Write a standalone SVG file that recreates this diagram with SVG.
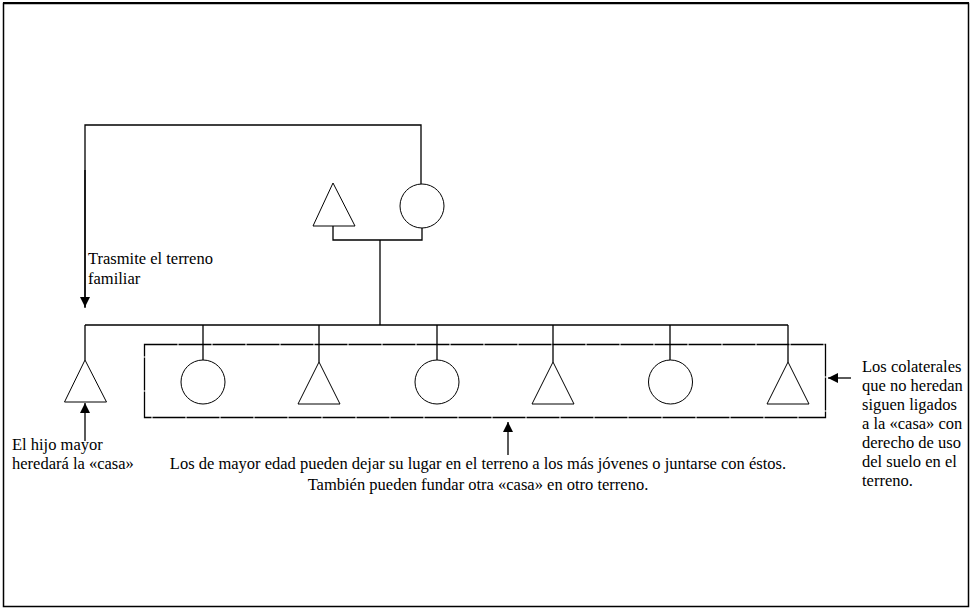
<svg xmlns="http://www.w3.org/2000/svg" width="972" height="612" viewBox="0 0 972 612">
<defs>
<marker id="ah" viewBox="0 0 10 10" refX="10" refY="5" markerWidth="10" markerHeight="10" markerUnits="userSpaceOnUse" orient="auto">
<path d="M0,0 L10,5 L0,10 z" fill="#000"/>
</marker>
</defs>
<style>
.ln{stroke:#000;stroke-width:1.3;fill:none}
.sh{stroke:#000;stroke-width:1;fill:#fff}
.t{font-family:"Liberation Serif","Times New Roman",serif;font-size:16.5px;fill:#000}
</style>
<rect x="0" y="0" width="972" height="612" fill="#fff"/>
<rect x="3.5" y="3.5" width="965" height="603" fill="none" stroke="#000" stroke-width="1.5"/>
<line x1="3" y1="3" x2="969" y2="3" stroke="#000" stroke-width="2"/>
<g id="connectors">
<polyline class="ln" points="85,308 85,125 421,125 421,184"/>
<line class="ln" x1="85" y1="170" x2="85" y2="307" marker-end="url(#ah)"/>
<polyline class="ln" points="333,226 333,240 422,240 422,228"/>
<line class="ln" x1="380" y1="240" x2="380" y2="325"/>
<line class="ln" x1="85" y1="325" x2="788" y2="325"/>
<line class="ln" x1="85" y1="325" x2="85" y2="360"/>
<line class="ln" x1="203" y1="325" x2="203" y2="360"/>
<line class="ln" x1="319" y1="325" x2="319" y2="362"/>
<line class="ln" x1="437" y1="325" x2="437" y2="360"/>
<line class="ln" x1="553" y1="325" x2="553" y2="362"/>
<line class="ln" x1="670" y1="325" x2="670" y2="360"/>
<line class="ln" x1="788" y1="325" x2="788" y2="362"/>
<line class="ln" x1="85" y1="441" x2="85" y2="403" marker-end="url(#ah)"/>
<line class="ln" x1="508" y1="455" x2="508" y2="422" marker-end="url(#ah)"/>
<line class="ln" x1="851" y1="378" x2="828" y2="378" marker-end="url(#ah)"/>
</g>
<g id="collaterals-box"><rect x="144.5" y="344.5" width="681" height="73" fill="none" stroke="#000" stroke-width="1.3" stroke-dasharray="33 1"/></g>
<g id="father"><polygon class="sh" points="333,183 313,226 355,226"/></g>
<g id="mother"><circle class="sh" cx="422" cy="206" r="22"/></g>
<g id="eldest"><polygon class="sh" points="85,360 64.5,402 106.5,402"/></g>
<g id="child2"><circle class="sh" cx="203" cy="382" r="22"/></g>
<g id="child3"><polygon class="sh" points="319,362 298,404 340,404"/></g>
<g id="child4"><circle class="sh" cx="437" cy="382" r="22"/></g>
<g id="child5"><polygon class="sh" points="553,362 532,404 574,404"/></g>
<g id="child6"><circle class="sh" cx="670.5" cy="382" r="22"/></g>
<g id="child7"><polygon class="sh" points="788,362 767,404 809,404"/></g>
<g id="labels">
<text class="t" x="88" y="264">Trasmite el terreno</text>
<text class="t" x="88" y="284">familiar</text>
<text class="t" x="12" y="450">El hijo mayor</text>
<text class="t" x="12" y="469">heredará la «casa»</text>
<text class="t" x="478" y="469" text-anchor="middle">Los de mayor edad pueden dejar su lugar en el terreno a los más jóvenes o juntarse con éstos.</text>
<text class="t" x="478" y="490" text-anchor="middle">También pueden fundar otra «casa» en otro terreno.</text>
<text class="t" x="862" y="372">Los colaterales</text>
<text class="t" x="862" y="391">que no heredan</text>
<text class="t" x="862" y="410">siguen ligados</text>
<text class="t" x="862" y="429">a la «casa» con</text>
<text class="t" x="862" y="448">derecho de uso</text>
<text class="t" x="862" y="467">del suelo en el</text>
<text class="t" x="862" y="486">terreno.</text>
</g>
</svg>
